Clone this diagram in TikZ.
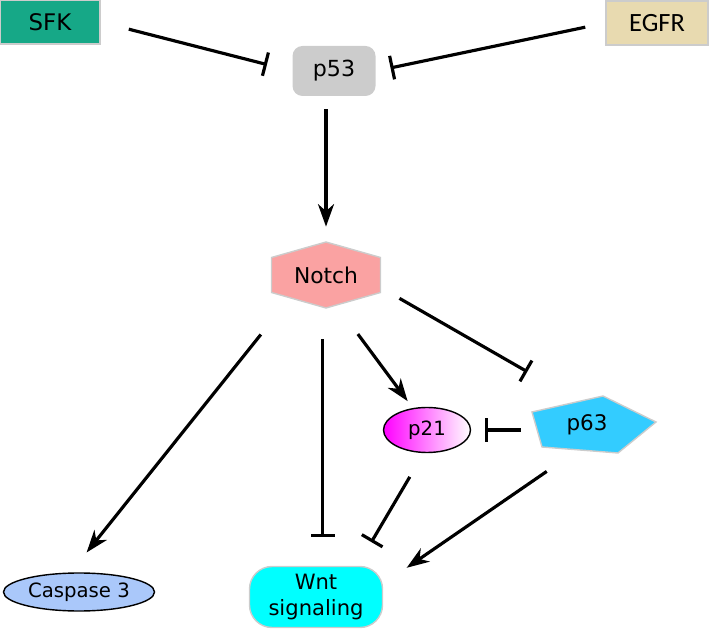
\documentclass[tikz,border=0pt]{standalone}
\usepackage{fontspec}
\setmainfont{DejaVu Sans}
\newfontfamily\egfrfont{Carlito}
\usetikzlibrary{arrows.meta,shapes.geometric,backgrounds}
\definecolor{sfkgreen}{RGB}{22,168,135}
\definecolor{egfrtan}{RGB}{232,218,176}
\definecolor{notchpink}{RGB}{250,162,162}
\definecolor{p63blue}{RGB}{51,204,255}
\definecolor{caspblue}{RGB}{170,200,250}
\definecolor{wntcyan}{RGB}{0,255,255}

\begin{document}
\begin{tikzpicture}[
	font=\fontsize{12}{15}\selectfont,
	act/.style={-{Stealth[length=0.45cm,width=0.32cm,inset=0.14cm]}, line width=1.8pt},
	inh/.style={-{Bar[width=0.48cm]}, line width=1.8pt},
	rim/.style={draw=black!20, line width=0.8pt}]
	\useasboundingbox (0,0) rectangle (14.18,12.56);
	\node[rim, fill=sfkgreen, minimum width=2cm, minimum height=0.88cm, font=\fontsize{13}{15}\selectfont] (SFK) at (1.0,12.12) {SFK};
	\node[rim, fill=egfrtan, minimum width=2.04cm, minimum height=0.88cm, font=\egfrfont\fontsize{15}{17}\selectfont] (EGFR) at (13.14,12.10) {EGFR};
	\node[fill=black!20, rounded corners=0.2cm, minimum width=1.66cm, minimum height=1cm, font=\fontsize{12.6}{15}\selectfont] (p53) at (6.68,11.14) {p53};
	\node[minimum width=2.18cm, minimum height=1.32cm, font=\fontsize{12.4}{15}\selectfont] (Notch) at (6.52,7.06) {Notch};
	\node[ellipse, draw=black, left color=magenta, right color=white, line width=0.8pt, inner sep=0pt, minimum width=1.74cm, minimum height=0.9cm, font=\fontsize{11.2}{13}\selectfont] (p21) at (8.54,3.96) {p21};
	\node[minimum width=2.48cm, minimum height=1.14cm, font=\fontsize{12.2}{14}\selectfont] (p63) at (11.88,4.06) {\hspace*{-0.28cm}p63};
	\node[ellipse, draw=black, fill=caspblue, line width=0.8pt, inner sep=0pt, minimum width=3.02cm, minimum height=0.76cm, font=\fontsize{11.2}{13}\selectfont] (Caspase) at (1.58,0.72) {Caspase 3};
	\node[rim, fill=wntcyan, rounded corners=0.45cm, minimum width=2.66cm, minimum height=1.22cm, align=center, inner sep=0pt] (Wnt) at (6.32,0.62) {Wnt\\signaling};
	\begin{scope}[on background layer]
		\filldraw[rim, fill=notchpink] ([shift={(0,0.66)}]Notch.center) -- ([shift={(1.09,0.35)}]Notch.center) -- ([shift={(1.09,-0.35)}]Notch.center) -- ([shift={(0,-0.66)}]Notch.center) -- ([shift={(-1.09,-0.35)}]Notch.center) -- ([shift={(-1.09,0.35)}]Notch.center) -- cycle;
		\filldraw[rim, fill=p63blue] ([shift={(-1.24,0.26)}]p63.center) -- ([shift={(0.18,0.58)}]p63.center) -- ([shift={(1.24,0.06)}]p63.center) -- ([shift={(0.48,-0.56)}]p63.center) -- ([shift={(-1.04,-0.44)}]p63.center) -- cycle;
	\end{scope}
	\draw[inh, shorten <=0.58cm, shorten >=0.52cm] (SFK.east) -- (p53.west);
	\draw[inh, shorten <=0.41cm, shorten >=0.30cm] (EGFR.west) -- (p53.east);
	\draw[act, shorten <=0.26cm, shorten >=0.30cm] (p53.south -| Notch.north) -- (Notch.north);
	\draw[act, shorten <=0.67cm, shorten >=0.51cm] (Notch.217) -- (Caspase.113);
	\draw[inh, shorten <=0.62cm, shorten >=0.57cm] (Notch.264) -- (Wnt.north -| Notch.264);
	\draw[act, shorten <=0.64cm, shorten >=0.17cm] (Notch.291) -- (p21.123);
	\draw[inh, shorten <=0.43cm, shorten >=0.98cm] (Notch.347) -- (p63.130);
	\draw[inh, shorten <=0.22cm, shorten >=0.27cm] (p63.west |- p21.east) -- (p21.east);
	\draw[inh, shorten <=0.55cm, shorten >=0.55cm] (p21.262) -- (Wnt.37);
	\draw[act, shorten <=0.62cm, shorten >=0.57cm] (p63.233) -- (Wnt.11);
\end{tikzpicture}
\end{document}
